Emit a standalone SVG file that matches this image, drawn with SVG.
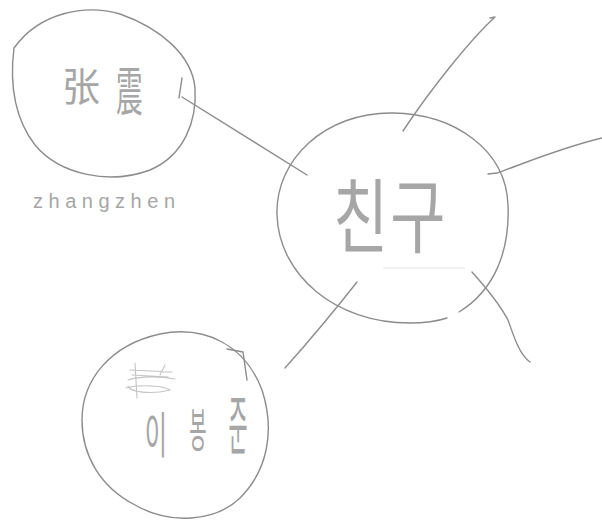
<svg xmlns="http://www.w3.org/2000/svg" width="602" height="526" viewBox="0 0 602 526">
<style>
.ln{fill:none;stroke:#8c8c8c;stroke-width:1.4;stroke-linecap:round;stroke-linejoin:round}
.fa{fill:none;stroke:#c4c4c4;stroke-width:1.1;stroke-linecap:round}
.vf{fill:none;stroke:#e6e6e6;stroke-width:1.2}
.tx{fill:#a6a6a6;font-family:"Noto Sans CJK KR","Noto Sans CJK SC",sans-serif}
.lat{fill:#a6a6a6;font-family:"Liberation Sans","DejaVu Sans",sans-serif}
</style>
<rect width="602" height="526" fill="#ffffff"/>
<g id="connectors">
<path class="ln" d="M182,97 L307,175"/>
<path class="ln" d="M490,18 L495,17 C470,40 430,90 403,131"/>
<path class="ln" d="M602,138 C560,148 520,165 497,173 L488,174"/>
<path class="ln" d="M357,282 C335,310 310,340 285,368"/>
<path class="ln" d="M472,272 C490,292 500,305 508,320 C515,340 520,355 530,362"/>
</g>
<g id="node-zhangzhen">
<path class="ln" d="M14,48 C10,80 12,115 35,145 C60,175 110,185 150,170 C185,155 197,120 195,88 C192,55 160,28 120,14 C85,4 40,12 14,48 Z"/>
<path class="ln" d="M182,78 L179,98"/>
<text class="tx" transform="translate(62,101) scale(0.95,1)" font-size="40">张</text>
<text class="tx" transform="translate(116,111) scale(0.7,1.4)" font-size="38">震</text>
<text class="lat" x="33" y="208" font-size="20" textLength="142" lengthAdjust="spacing">zhangzhen</text>
</g>
<g id="node-chingu">
<path class="ln" d="M459,312 C495,290 510,250 508,205 C506,150 455,114 393,113 C325,112 275,160 277,215 C279,275 335,323 410,323 C425,323 438,321 447,318"/>
<path class="vf" d="M383,268 L465,268"/>
<text class="tx" transform="translate(333,246) scale(1,1.35)" font-size="60" fill="#8e8e8e" letter-spacing="2">친구</text>
</g>
<g id="node-leebongjun">
<path class="ln" d="M82,420 C82,380 110,345 160,334 C205,325 245,345 262,390 C275,430 268,470 240,498 C215,522 170,525 135,505 C100,487 82,455 82,420 Z"/>
<path class="ln" d="M227,349 L243,352 L247,380"/>
<path class="fa" d="M130,370 L172,372 M128,380 C140,376 160,376 175,379 M126,388 C140,384 165,386 170,390 C150,395 130,392 128,386 M135,363 L137,398 M165,365 L160,375 M132,375 L168,377"/>
<text class="tx" text-anchor="middle" transform="translate(156,453) scale(0.55,1.1)" font-size="44">이</text>
<text class="tx" text-anchor="middle" transform="translate(198,447) scale(0.45,1.1)" font-size="42">봉</text>
<text class="tx" text-anchor="middle" transform="translate(238,449) scale(0.45,1.4)" font-size="46">준</text>
</g>
</svg>
